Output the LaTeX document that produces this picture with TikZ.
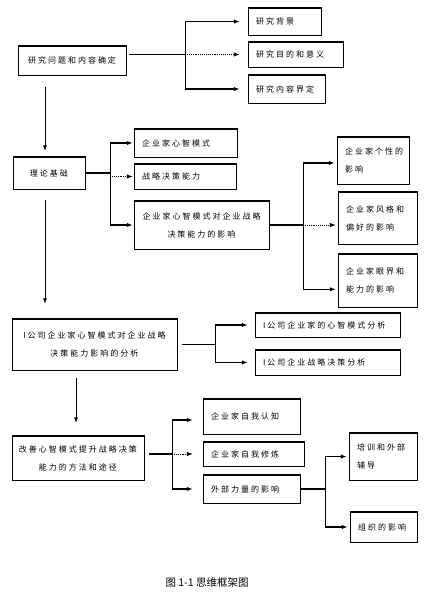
\documentclass[tikz,border=0pt]{standalone}
\usepackage{fontspec}
\newfontfamily\cjk[LetterSpace=25]{Noto Sans CJK SC}
\newfontfamily\cjkcap{Noto Sans CJK SC}
\usetikzlibrary{arrows.meta}
\tikzset{
  kuang/.style={draw,line width=0.5pt,inner sep=0pt,font=\cjk\fontsize{8}{18}\selectfont},
  kzuo/.style={kuang,align=left,inner xsep=8pt},
  kzhong/.style={kuang,align=center},
  gan/.style={line width=1.4pt},
  zhi/.style={line width=0.6pt},
  jian/.style={line width=1.4pt,-{Latex[length=6pt,width=4.5pt]}},
  xujian/.style={line width=0.9pt,densely dotted,-{Latex[length=6pt,width=4.5pt]}},
  xia/.style={line width=0.6pt,-{Latex[length=5.5pt,width=4pt]}},
}
\begin{document}
\begin{tikzpicture}[x=1pt,y=-1pt]
\useasboundingbox(0,0)rectangle(432,603);
\node[kzhong,minimum width=108,minimum height=29](wt)at(72,60.5){研究问题和内容确定};
\node[kzuo,text width=57,minimum height=27](bj)at(284.5,21.5){研究背景};
\node[kzuo,text width=79,minimum height=25](md)at(295.5,54.5){研究目的和意义};
\node[kzuo,text width=61,minimum height=28](jd)at(286.5,89){研究内容界定};
\node[kzhong,minimum width=72,minimum height=32](ll)at(49,173){理论基础};
\node[kzuo,text width=87,minimum height=28](xz)at(185.5,143){企业家心智模式};
\node[kzuo,text width=86,minimum height=25](nl)at(185,176.5){战略决策能力};
\node[kzhong,minimum width=135,minimum height=48](yx)at(201.5,225){企业家心智模式对企业战略\\决策能力的影响};
\node[kzuo,text width=56,minimum height=47](gx)at(373,160.5){企业家个性的\\影响};
\node[kzuo,text width=63,minimum height=52](fg)at(377.5,218){企业家风格和\\偏好的影响};
\node[kzuo,text width=63,minimum height=53](yj)at(377.5,280.5){企业家眼界和\\能力的影响};
\node[kzhong,minimum width=165,minimum height=51](fx)at(94.5,344.5){I公司企业家心智模式对企业战略\\决策能力影响的分析};
\node[kzuo,text width=129,minimum height=24](fx1)at(327.5,325){I公司企业家的心智模式分析};
\node[kzuo,text width=129,minimum height=25](fx2)at(327.5,362.5){I公司企业战略决策分析};
\node[kzhong,minimum width=132,minimum height=44](gs)at(78,458){改善心智模式提升战略决策\\能力的方法和途径};
\node[kzuo,text width=81,minimum height=35](gs1)at(251.5,416.5){企业家自我认知};
\node[kzuo,text width=85,minimum height=24](gs2)at(253.5,454){企业家自我修炼};
\node[kzuo,text width=81,minimum height=28](gs3)at(251.5,489){外部力量的影响};
\node[kzuo,text width=52,minimum height=47](px)at(383,456.5){培训和外部\\辅导};
\node[kzuo,text width=51,minimum height=30](zz)at(383.5,527){组织的影响};
\foreach \n in {wt,bj,md,jd,ll,xz,nl,yx,gx,fg,yj,fx,fx1,fx2,gs,gs1,gs2,gs3,px,zz}
  {\draw[line width=1.2pt](\n.north west)--(\n.north east)--(\n.south east)--(\n.south west);}
% fen zhi dian
\coordinate(fa)at(185,0);
\coordinate(fb)at(110,0);
\coordinate(fc)at(303,0);
\coordinate(fd)at(215,0);
\coordinate(fe)at(172,0);
\coordinate(ff)at(325,0);
\coordinate(zx)at(45,0);
\coordinate(zx2)at(76,0);
\coordinate(gxa)at([yshift=-2.5pt]gx.west);
\coordinate(yja)at([yshift=-8.8pt]yj.west);
\coordinate(gsa)at([yshift=-3.5pt]gs1.west);
% yan jiu wen ti
\draw[gan,shorten <=3pt](wt.east|-md.west)--(fa|-md.west);
\draw[zhi](fa|-bj.west)--(fa|-jd.west);
\draw[jian,shorten >=8pt](fa|-bj.west)--(bj.west);
\draw[xujian,shorten >=8pt](fa|-md.west)--(md.west);
\draw[jian,shorten >=8pt](fa|-jd.west)--(jd.west);
% li lun ji chu
\draw[gan,shorten <=1pt](ll.east)--(fb|-ll.east);
\draw[zhi](fb|-xz.west)--(fb|-yx.west);
\draw[jian,shorten >=1pt](fb|-xz.west)--(xz.west);
\draw[xujian,shorten >=1pt](fb|-nl.west)--(nl.west);
\draw[jian,shorten >=1pt](fb|-yx.west)--(yx.west);
\draw[gan](yx.east)--(fc|-yx.east);
\draw[zhi](fc|-gxa)--(fc|-yja);
\draw[jian,shorten >=2pt](fc|-gxa)--(gxa);
\draw[xujian,shorten >=2pt](fc|-yx.east)--(yx.east-|fg.west);
\draw[jian,shorten >=2pt](fc|-yja)--(yja);
% fen xi
\draw[gan,shorten <=5pt](fx.east)--(fd|-fx.east);
\draw[zhi](fd|-fx1.west)--(fd|-fx2.west);
\draw[jian,shorten >=7pt](fd|-fx1.west)--(fx1.west);
\draw[jian,shorten >=7pt](fd|-fx2.west)--(fx2.west);
% gai shan
\draw[gan,shorten <=5pt](gs.east|-gs2.west)--(fe|-gs2.west);
\draw[zhi](fe|-gsa)--(fe|-gs3.west);
\draw[jian,shorten >=10pt](fe|-gsa)--(gsa);
\draw[xujian,shorten >=10pt](fe|-gs2.west)--(gs2.west);
\draw[jian,shorten >=10pt](fe|-gs3.west)--(gs3.west);
\draw[gan](gs3.east)--(ff|-gs3.east);
\draw[zhi](ff|-px.west)--(ff|-zz.west);
\draw[jian,shorten >=2pt](ff|-px.west)--(px.west);
\draw[jian,shorten >=2pt](ff|-zz.west)--(zz.west);
% xia
\draw[xia,shorten <=12pt,shorten >=6pt](zx|-wt.south)--(zx|-ll.north);
\draw[xia,shorten <=11pt,shorten >=15pt](zx|-ll.south)--(zx|-fx.north);
\draw[xia,shorten <=8pt,shorten >=13pt](zx2|-fx.south)--(zx2|-gs.north);
\node[font=\cjkcap\fontsize{10.5}{12}\selectfont](tm)at(207,582){图 1-1 思维框架图};
\end{tikzpicture}
\end{document}
